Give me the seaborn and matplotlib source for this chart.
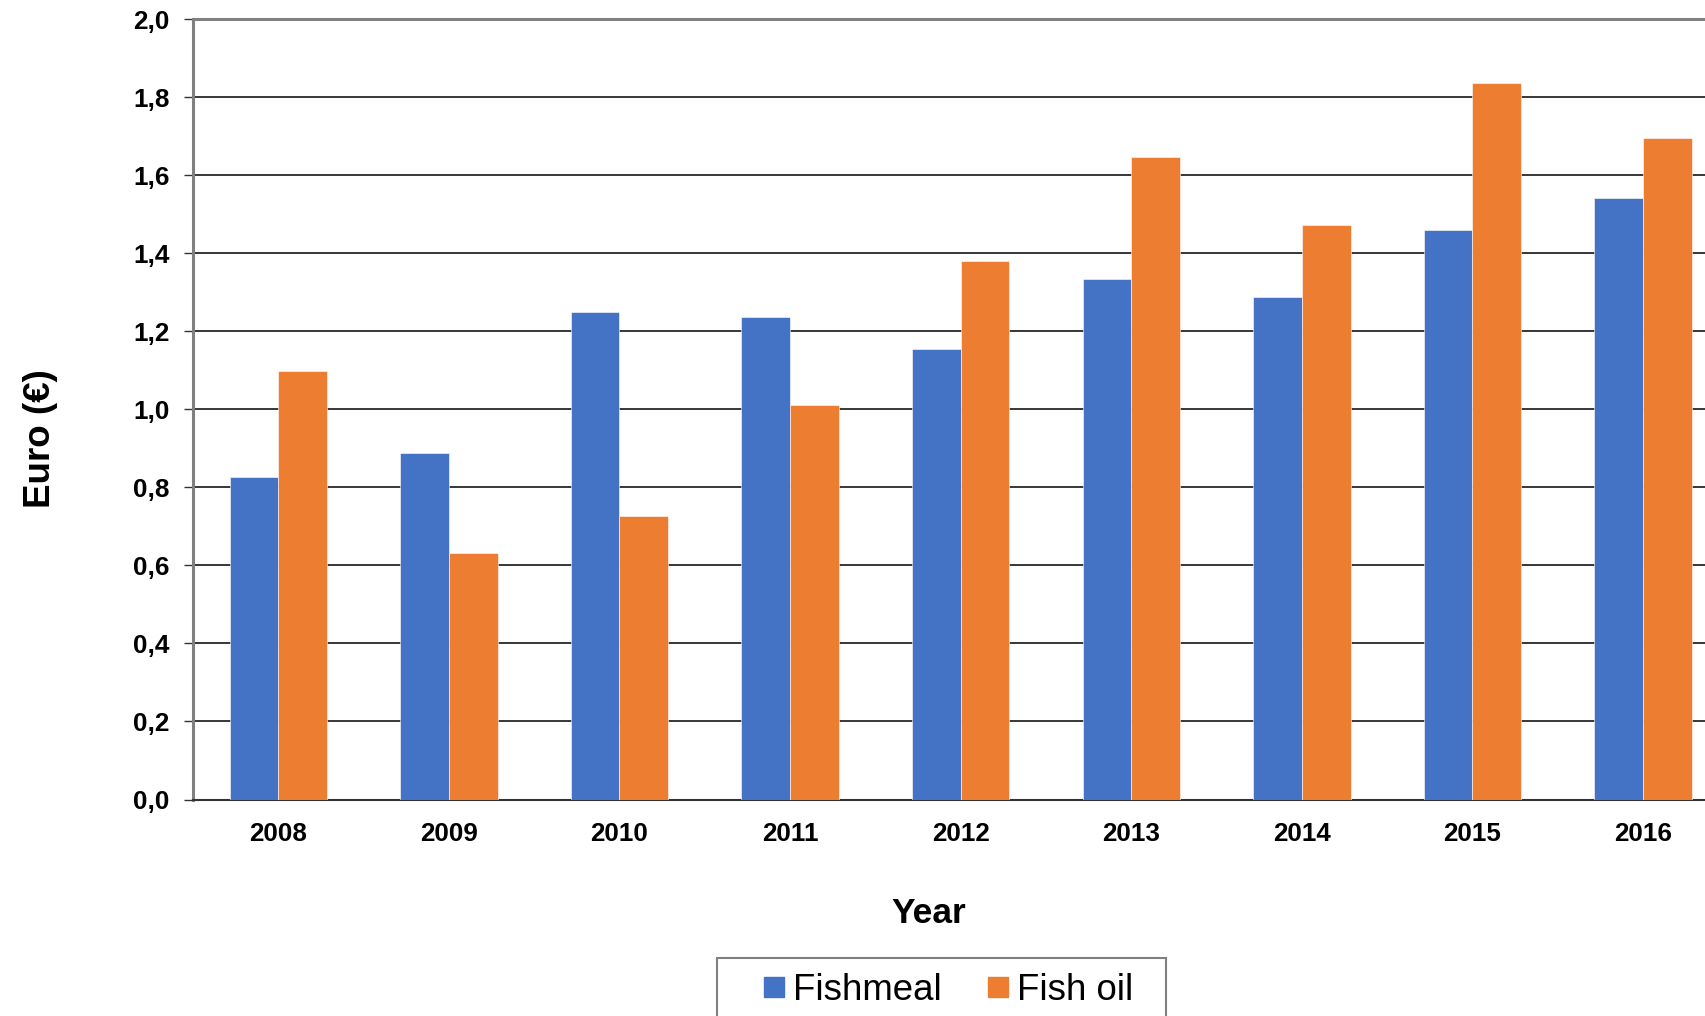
import pandas as pd
import numpy as np
import matplotlib
matplotlib.use("Agg")
import matplotlib.pyplot as plt
from matplotlib.lines import Line2D
from matplotlib.patches import Rectangle
from matplotlib.ticker import FuncFormatter, MultipleLocator
import seaborn as sns

# --- Données ---
annees   = ["2008", "2009", "2010", "2011", "2012", "2013", "2014", "2015", "2016"]
fishmeal = [0.826, 0.887, 1.250, 1.238, 1.155, 1.333, 1.289, 1.461, 1.541]
fish_oil = [1.099, 0.633, 0.728, 1.010, 1.381, 1.646, 1.473, 1.836, 1.696]
series   = ["Fishmeal", "Fish oil"]
couleurs = ["#4472C4", "#ED7D31"]

df = pd.DataFrame({
    "Year": annees * 2,
    "Euro": fishmeal + fish_oil,
    "Produit": [series[0]] * len(annees) + [series[1]] * len(annees),
})

sns.set_style("white")
plt.rcParams["font.family"] = ["Liberation Sans", "DejaVu Sans"]
plt.rcParams["text.color"] = "black"
plt.rcParams["axes.labelcolor"] = "black"
plt.rcParams["xtick.color"] = "black"
plt.rcParams["ytick.color"] = "black"

W, H = 1706, 1016
fig = plt.figure(figsize=(W / 100, H / 100), dpi=100)
ax = fig.add_axes([193 / W, 1 - 799.5 / H, 1 - 193 / W, (799.5 - 19.3) / H])

sns.barplot(data=df, x="Year", y="Euro", hue="Produit", order=annees,
            hue_order=series, palette=couleurs, width=0.571, gap=0,
            saturation=1, edgecolor="white", linewidth=0.4,
            legend=False, ax=ax, zorder=3)

# --- Axes ---
ax.set_ylim(0, 2.0)
ax.set_xlim(-0.5, -0.5 + (W - 193) / 170.6)
ax.yaxis.set_major_locator(MultipleLocator(0.2))
ax.yaxis.set_major_formatter(FuncFormatter(lambda v, p: f"{v:.1f}".replace(".", ",")))
ax.grid(axis="y", color="black", linewidth=1.1, zorder=0)
ax.set_axisbelow(True)

ax.set_xticks(np.arange(len(annees)))
ax.set_xticklabels(annees, fontsize=18.7, fontweight="bold")
ax.tick_params(axis="x", length=0, pad=16)
ax.set_xticks(np.arange(len(annees)) - 0.5, minor=True)
ax.tick_params(axis="x", which="minor", length=5.5, width=1.3, direction="out",
               color="#333333")
ax.tick_params(axis="y", length=6.5, width=1.0, direction="out", color="#333333",
               labelsize=18.8, pad=10.5, left=True)
for lab in ax.get_yticklabels():
    lab.set_fontweight("bold")

for cote in ["left", "top"]:
    ax.spines[cote].set_color("#808080")
    ax.spines[cote].set_linewidth(2.2)
ax.spines["bottom"].set_color("#333333")
ax.spines["bottom"].set_linewidth(1.5)
ax.spines["right"].set_visible(False)

ax.set_xlabel("Year", fontsize=25.5, fontweight="bold")
ax.xaxis.set_label_coords((928.7 - 193) / (W - 193), -0.125)
ax.set_ylabel("Euro (€)", fontsize=26.5, fontweight="bold", va="center")
ax.yaxis.set_label_coords((40 - 193) / (W - 193), 0.463)

# --- Légende ---
poignees = [Line2D([], [], linestyle="none", marker="s", markersize=14,
                   markerfacecolor=c, markeredgecolor=c) for c in couleurs]
fig.legend(poignees, series, loc="center left",
           bbox_to_anchor=(764 / W, 1 - 990.5 / H), ncol=2, frameon=False,
           fontsize=26.4, handlelength=0.53, handletextpad=0.27,
           columnspacing=1.25, borderpad=0, borderaxespad=0)
fig.patches.append(Rectangle((717.3 / W, -0.05), (1166 - 717.3) / W, 0.05 + 1 - 957.7 / H,
                             transform=fig.transFigure, fill=False,
                             edgecolor="#808080", linewidth=1.5))

fig.savefig("out.png", dpi=100)
